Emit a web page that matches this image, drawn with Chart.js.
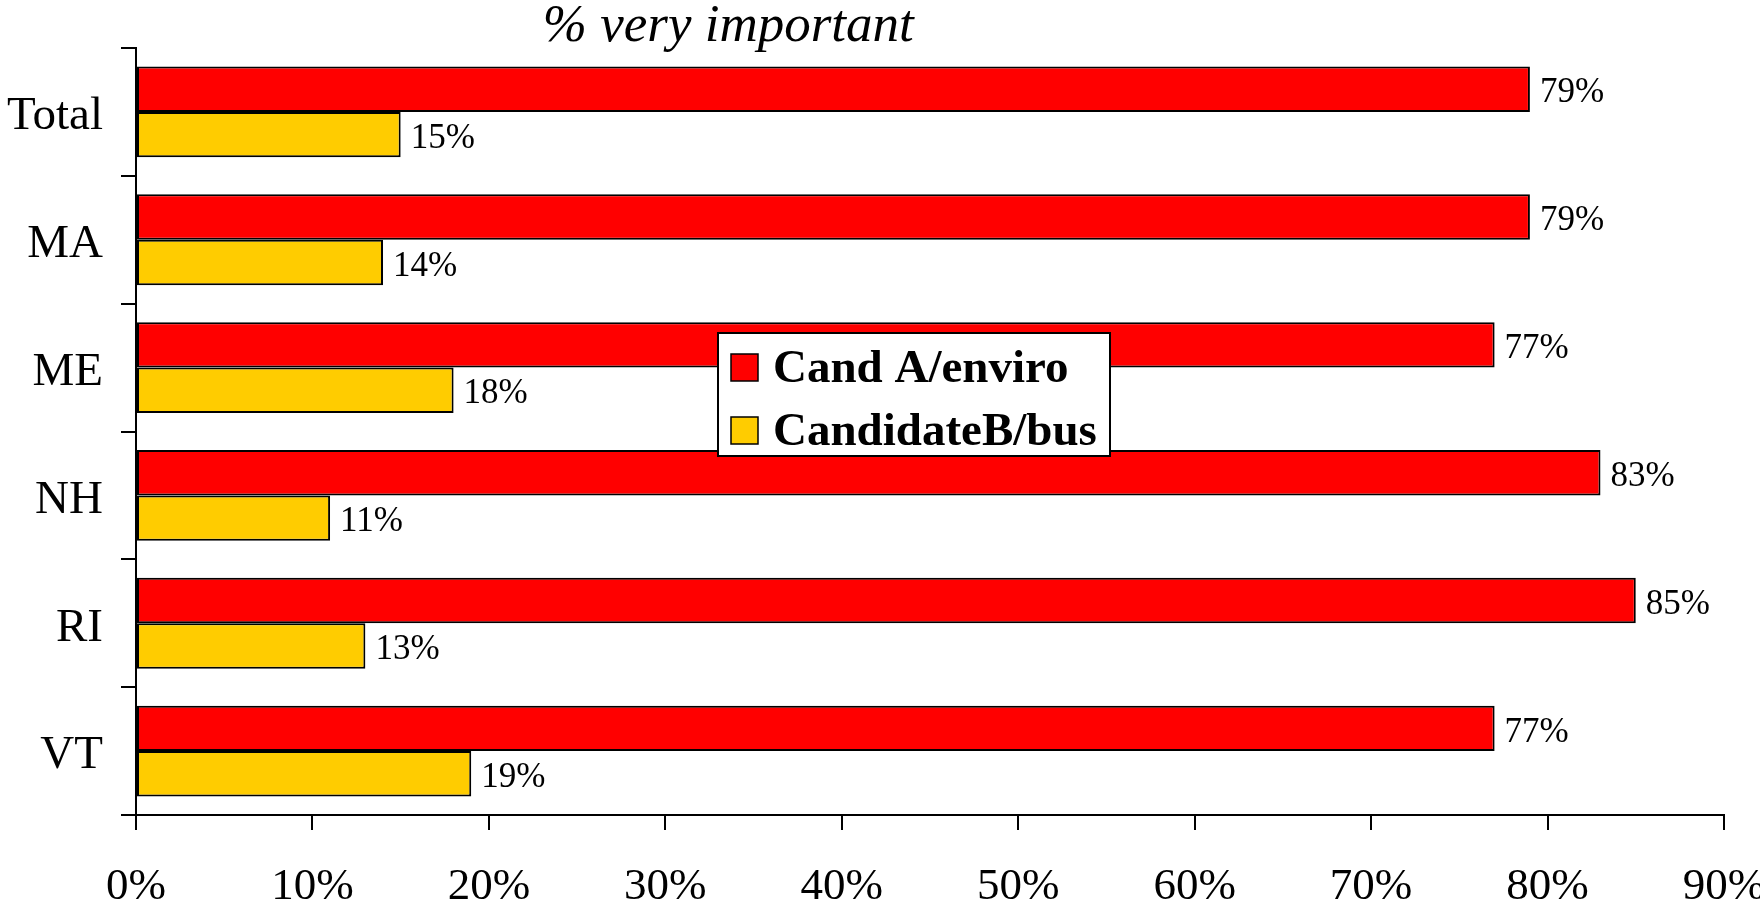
<!DOCTYPE html>
<html>
<head>
<meta charset="utf-8">
<title>% very important</title>
<script src="https://cdn.jsdelivr.net/npm/chart.js@4.4.1/dist/chart.umd.min.js"></script>
<style>
    html, body { margin: 0; padding: 0; background: #fff; }
    #wrap { width: 1760px; height: 910px; }
</style>
</head>
<body>
<div id="wrap"><canvas id="rankingChart" width="1760" height="910"></canvas></div>
<script>
// du lieu doc tu hinh
var categories = ['Total', 'MA', 'ME', 'NH', 'RI', 'VT'];
var seriesNames = ['Cand A/enviro', 'CandidateB/bus'];
var candA = [79, 79, 77, 83, 85, 77];
var candB = [15, 14, 18, 11, 13, 19];
var xTicks = [0, 10, 20, 30, 40, 50, 60, 70, 80, 90];
var chartTitle = '% very important';

var serif = '"Liberation Serif", "Times New Roman", serif';

// ve nhan % o cuoi moi thanh
var valueLabels = {
    id: 'valueLabels',
    afterDatasetsDraw: function (chart) {
        var ctx = chart.ctx;
        ctx.save();
        ctx.font = '35px ' + serif;
        ctx.fillStyle = '#000';
        ctx.textAlign = 'left';
        ctx.textBaseline = 'middle';
        chart.data.datasets.forEach(function (ds, i) {
            var meta = chart.getDatasetMeta(i);
            meta.data.forEach(function (bar, j) {
                ctx.fillText(ds.data[j] + '%', bar.x + 10, bar.y + 4);
            });
        });
        ctx.restore();
    }
};

// tieu de nghieng o tren
var topTitle = {
    id: 'topTitle',
    afterDraw: function (chart) {
        var a = chart.chartArea;
        var ctx = chart.ctx;
        ctx.save();
        ctx.font = 'italic 53px ' + serif;
        ctx.fillStyle = '#000';
        ctx.textAlign = 'center';
        ctx.textBaseline = 'alphabetic';
        ctx.fillText(chartTitle, a.left + (a.right - a.left) * 0.373, 41);
        ctx.restore();
    }
};

// chu giai nam giua bieu do
var boxLegend = {
    id: 'boxLegend',
    afterDraw: function (chart) {
        var a = chart.chartArea;
        var ctx = chart.ctx;
        var w = a.right - a.left, h = a.bottom - a.top;
        var bx = Math.round(a.left + w * 0.3665);
        var by = Math.round(a.top + h * 0.3716);
        var bw = 392, bh = 123;
        ctx.save();
        ctx.fillStyle = '#fff';
        ctx.fillRect(bx, by, bw, bh);
        ctx.strokeStyle = '#000';
        ctx.lineWidth = 2;
        ctx.strokeRect(bx, by, bw, bh);
        ctx.font = 'bold 47px ' + serif;
        ctx.textAlign = 'left';
        ctx.textBaseline = 'middle';
        chart.data.datasets.forEach(function (ds, i) {
            var cy = by + 34 + i * 63;
            ctx.fillStyle = ds.backgroundColor;
            ctx.fillRect(bx + 13, cy - 13, 27, 27);
            ctx.lineWidth = 1.5;
            ctx.strokeRect(bx + 13, cy - 13, 27, 27);
            ctx.fillStyle = '#000';
            ctx.fillText(ds.label, bx + 55, cy + 3);
        });
        ctx.restore();
    }
};

var ctx = document.getElementById('rankingChart').getContext('2d');

new Chart(ctx, {
    type: 'bar',
    data: {
        labels: categories,
        datasets: [{
            label: seriesNames[0],
            data: candA,
            backgroundColor: '#ff0000',
            borderColor: '#000',
            borderWidth: 2,
            borderSkipped: false
        }, {
            label: seriesNames[1],
            data: candB,
            backgroundColor: '#ffcc00',
            borderColor: '#000',
            borderWidth: 2,
            borderSkipped: false
        }]
    },
    options: {
        indexAxis: 'y',
        responsive: false,
        animation: false,
        datasets: {
            bar: { categoryPercentage: 0.71, barPercentage: 1.0 }
        },
        layout: { padding: { top: 48, right: 36, left: 0, bottom: 0 } },
        plugins: {
            legend: { display: false },
            title: { display: false },
            tooltip: { enabled: false }
        },
        scales: {
            x: {
                type: 'linear',
                min: 0,
                max: 90,
                afterBuildTicks: function (scale) {
                    scale.ticks = xTicks.map(function (v) { return { value: v }; });
                },
                afterFit: function (scale) {
                    scale.height = 95;
                    scale.paddingLeft = 0;
                    scale.paddingRight = 0;
                },
                border: { display: true, color: '#000', width: 2 },
                grid: { drawOnChartArea: false, color: '#000', lineWidth: 2, tickLength: 15 },
                ticks: {
                    color: '#000',
                    padding: 30,
                    maxRotation: 0,
                    font: { family: serif, size: 45 },
                    callback: function (v) { return v + '%'; }
                }
            },
            y: {
                afterFit: function (scale) {
                    scale.width = 136;
                    scale.paddingTop = 0;
                    scale.paddingBottom = 0;
                },
                border: { display: true, color: '#000', width: 2 },
                grid: { offset: true, drawOnChartArea: false, color: '#000', lineWidth: 2, tickLength: 15 },
                ticks: {
                    color: '#000',
                    padding: 18,
                    labelOffset: 5,
                    font: { family: serif, size: 47 }
                }
            }
        }
    },
    plugins: [valueLabels, topTitle, boxLegend]
});
</script>
</body>
</html>
